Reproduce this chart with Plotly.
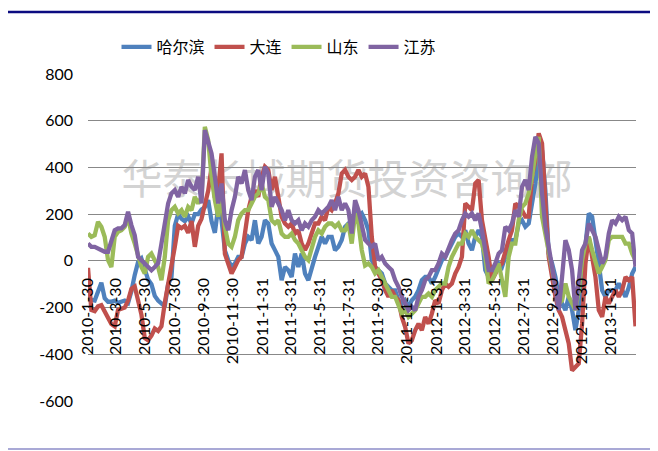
import plotly.graph_objects as go
import pandas as pd

# weekly observations, starting 2010-01-30
harbin = [-150,-167,-170,-130,-94,-160,-175,-175,-170,-180,-175,-170,-180,-130,-60,-5,10,-40,-80,-100,
          -150,-170,-180,-195,-100,-70,150,200,180,170,190,160,200,200,220,230,260,170,120,230,
          175,45,3,-25,-11,17,17,74,103,89,174,74,103,174,160,74,46,17,-83,-26,
          -40,-69,31,-26,31,-54,-83,-26,17,60,103,74,103,103,46,60,89,146,160,131,
          231,189,203,174,131,3,-26,-40,-54,-97,-111,-126,-126,-169,-183,-169,-197,-169,-154,-126,
          -83,-69,-69,-97,-69,-26,3,17,46,74,103,117,103,131,74,46,103,131,103,-40,-69,
          -69,-26,-11,-26,17,46,89,89,160,174,146,160,246,331,446,474,300,31,-11,-69,
          -154,-183,-211,-154,-211,-297,-211,-69,74,203,189,103,-11,-126,-154,-126,-126,-126,-97,-126,
          -154,-113,-54,-26]
dalian = [-30,-210,-215,-195,-190,-220,-250,-270,-280,-210,-205,-200,-170,-120,-110,-170,-230,-330,-340,-320,
          -290,-300,-280,-180,-110,-20,60,150,140,150,120,170,60,150,180,250,300,400,270,300,
          460,30,-11,-54,-26,3,17,131,217,274,303,274,360,403,389,303,360,274,189,160,
          146,160,117,131,74,46,74,117,160,160,189,174,231,217,246,289,374,389,360,346,
          360,389,360,374,317,103,-26,-54,-83,-126,-154,-126,-154,-169,-240,-283,-354,-340,-297,-269,
          -297,-240,-269,-226,-169,-183,-126,-97,-111,-97,-54,-26,17,246,231,217,331,346,174,103,17,
          -83,-54,-26,-11,46,89,131,246,231,217,189,189,360,431,546,503,250,17,-69,-154,
          -211,-240,-297,-354,-469,-454,-440,-269,-11,103,17,-69,-211,-240,-154,-183,-154,-126,-154,-126,
          -69,-83,-69,-280]
shandong = [117,103,110,167,146,103,3,-26,103,124,131,146,189,117,74,17,-26,-54,17,31,
            3,-26,-83,17,174,217,231,203,217,189,231,217,274,246,274,574,517,360,260,189,
            274,146,74,60,103,174,203,217,217,246,274,289,331,274,260,174,160,174,117,103,
            103,117,89,74,46,17,3,60,103,131,117,146,160,160,146,160,131,131,160,74,
            203,160,46,-20,-11,-26,-54,-40,-69,-97,-126,-154,-154,-197,-226,-211,-240,-226,-211,-183,
            -154,-154,-140,-154,-126,-111,-97,-97,-26,17,46,74,74,117,103,131,103,89,74,17,-97,
            -83,-54,-11,-83,-154,17,74,74,174,231,246,289,360,460,531,189,117,31,-40,-97,
            -183,-169,-97,-154,-183,-211,-126,3,74,103,46,-11,-54,-26,3,89,103,103,103,103,
            74,74,31,3]
jiangsu = [74,60,60,53,46,39,39,89,131,139,139,153,210,153,110,17,3,-11,-26,-40,
           -26,-10,74,160,246,289,303,274,317,289,346,317,303,360,246,560,503,460,360,246,
           331,174,131,217,274,360,331,389,303,260,360,389,303,403,374,231,274,246,217,174,
           217,174,160,174,131,160,146,174,189,217,203,217,231,260,217,274,217,246,217,117,
           260,217,160,89,74,60,74,3,17,-11,-26,-40,-83,-111,-154,-183,-211,-197,-211,-154,
           -126,-83,-69,-40,-40,-11,31,17,60,89,117,131,174,203,189,203,174,203,131,46,-40,
           -40,-11,31,46,146,131,160,217,189,317,346,303,446,531,503,289,146,46,-26,-111,
           -211,-69,89,46,-40,-211,-97,46,74,160,131,103,46,-11,17,117,174,160,189,174,
           189,131,117,-25]

series_names = ["哈尔滨", "大连", "山东", "江苏"]
series_values = [harbin, dalian, shandong, jiangsu]
series_colors = ["#4F81BD", "#C0504D", "#9BBB59", "#8064A2"]

tick_dates = ["2010-01-30", "2010-03-30", "2010-05-30", "2010-07-30", "2010-09-30", "2010-11-30",
              "2011-01-31", "2011-03-31", "2011-05-31", "2011-07-31", "2011-09-30", "2011-11-30",
              "2012-01-31", "2012-03-31", "2012-05-31", "2012-07-31", "2012-09-30", "2012-11-30",
              "2013-01-31"]
tick_labels = ["2010-1-30", "2010-3-30", "2010-5-30", "2010-7-30", "2010-9-30", "2010-11-30",
               "2011-1-31", "2011-3-31", "2011-5-31", "2011-7-31", "2011-9-30", "2011-11-30",
               "2012-1-31", "2012-3-31", "2012-5-31", "2012-7-31", "2012-9-30", "2012-11-30",
               "2013-1-31"]
y_ticks = [-600, -400, -200, 0, 200, 400, 600, 800]
y_labels = ["-600", "-400", "-200", "0", "200", "400", "600", "800"]

fig = go.Figure()
for name, vals, col in zip(series_names, series_values, series_colors):
    d = pd.date_range("2010-01-30", periods=len(vals), freq="7D")
    fig.add_trace(go.Scatter(x=d, y=vals, name=name, mode="lines",
                             line=dict(color=col, width=4.3)))

# the page body adds an 8px offset; size the figure to fill the remaining window
OFF = 8
W, H = 658 - OFF, 451 - OFF
L, R, T, B = 88 - OFF, 22, 74 - OFF, 50
pw, ph = W - L - R, H - T - B

def px(xp):
    return (xp - OFF - L) / pw

def py(yp):
    return (H - B - (yp - OFF)) / ph

fig.update_layout(
    width=W, height=H,
    margin=dict(l=L, r=R, t=T, b=B, autoexpand=False),
    paper_bgcolor="white", plot_bgcolor="white",
    font=dict(family="Lato, Carlito, sans-serif", size=16, color="#000000"),
    showlegend=True,
    legend=dict(orientation="h", x=px(279), xanchor="center", y=py(47), yanchor="middle",
                font=dict(family="Noto Sans CJK SC", size=16, color="#000000"),
                itemwidth=30, bgcolor="rgba(0,0,0,0)", traceorder="normal"),
    xaxis=dict(type="date", range=["2010-01-30", "2013-03-24"],
               tickmode="array", tickvals=tick_dates, ticktext=tick_labels,
               tickangle=-90, showgrid=False, showline=False, zeroline=False,
               anchor="free", position=600 / 1400, ticks="", ticklabelstandoff=13,
               tickfont=dict(size=16)),
    yaxis=dict(range=[-600, 800], tickmode="array", tickvals=y_ticks, ticktext=y_labels,
               showgrid=True, gridcolor="#888888", gridwidth=1.3, zeroline=True,
               zerolinecolor="#888888", zerolinewidth=1.3, showline=False, ticks="",
               ticklabelstandoff=14, tickfont=dict(size=16)),
    shapes=[
        dict(type="line", xref="paper", yref="paper", x0=px(7), x1=px(660), y0=py(12), y1=py(12),
             line=dict(color="#0b0b80", width=2.5)),
        dict(type="line", xref="paper", yref="paper", x0=px(7), x1=px(660), y0=py(449), y1=py(449),
             line=dict(color="#a9a9d6", width=2)),
        dict(type="rect", xref="paper", yref="paper", x0=px(97), x1=px(597), y0=py(210), y1=py(156),
             line=dict(width=0), fillcolor="rgba(0,0,0,0)", layer="below",
             label=dict(text="华泰长城期货投资咨询部", textposition="middle center",
                        font=dict(family="Noto Sans CJK SC", size=41, color="#d3d3d3"))),
    ],
)

fig.write_html("out.html")
